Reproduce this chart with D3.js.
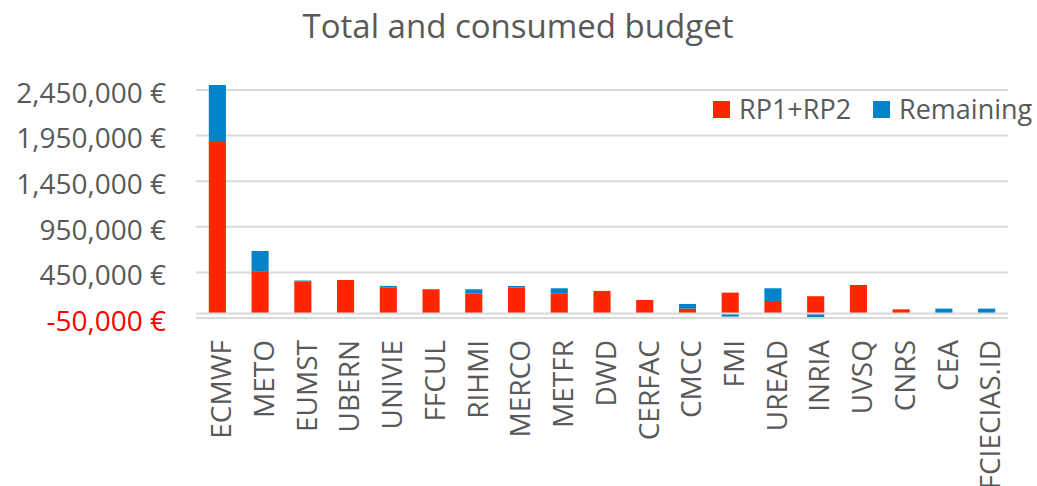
<!DOCTYPE html>
<html>
<head>
<meta charset="utf-8">
<script src="https://cdn.jsdelivr.net/npm/d3@7"></script>
<style>
  body { margin: 0; background: #fff; }
  svg { font-family: 'Open Sans', sans-serif; }
</style>
</head>
<body>
<svg width="1037" height="486"></svg>
<script>
const partners = ['ECMWF', 'METO', 'EUMST', 'UBERN', 'UNIVIE', 'FFCUL', 'RIHMI', 'MERCO', 'METFR', 'DWD',
  'CERFAC', 'CMCC', 'FMI', 'UREAD', 'INRIA', 'UVSQ', 'CNRS', 'CEA', 'FCIECIAS.ID']
const consumed = [1880000, 463000, 353000, 367000, 287000, 265000, 217000, 283000, 221000, 247000,
  148000, 53000, 228000, 137000, 189000, 312000, 45000, 0, 0]
const remaining = [625000, 222000, 8000, 0, 15000, 0, 48000, 18000, 55000, 0,
  0, 51000, -35000, 139000, -40000, 0, 0, 53000, 53000]
const yTicks = [-50000, 450000, 950000, 1450000, 1950000, 2450000]
const seriesNames = ['RP1+RP2', 'Remaining']
const colors = ['#ff2600', '#0083c9']

const svg = d3.select('svg')
const plot = { left: 196, right: 1008, top: 90, bottom: 318 }

const rows = partners.map((p, i) => ({ name: p, 'RP1+RP2': consumed[i], 'Remaining': remaining[i] }))

const x = d3.scaleBand()
  .domain(partners)
  .range([plot.left, plot.right])
  .paddingInner(0.6)
  .paddingOuter(0.3)

const y = d3.scaleLinear()
  .domain([yTicks[0], yTicks[yTicks.length - 1]])
  .range([plot.bottom, plot.top])

// euro labels, plain hyphen for negatives like Excel
const fmt = d => d3.format(',')(d).replace('\u2212', '-') + ' €'

// gridlines
svg.append('g')
  .selectAll('line')
  .data(yTicks)
  .enter()
  .append('line')
  .attr('x1', plot.left)
  .attr('x2', plot.right)
  .attr('y1', d => y(d))
  .attr('y2', d => y(d))
  .attr('stroke', '#d9d9d9')
  .attr('stroke-width', 2)

// y labels
svg.append('g')
  .selectAll('text')
  .data(yTicks)
  .enter()
  .append('text')
  .attr('x', 166)
  .attr('y', d => y(d) + 3)
  .attr('dy', '0.35em')
  .attr('text-anchor', 'end')
  .attr('fill', d => d < 0 ? '#ff0000' : '#595959')
  .style('font-size', '28px')
  .text(fmt)

const stack = d3.stack()
  .keys(seriesNames)
  .offset(d3.stackOffsetDiverging)

const layers = stack(rows)

svg.append('g')
  .selectAll('g')
  .data(layers)
  .enter()
  .append('g')
  .attr('fill', (d, i) => colors[i])
  .selectAll('rect')
  .data(d => d)
  .enter()
  .append('rect')
  .attr('x', d => x(d.data.name))
  .attr('width', x.bandwidth())
  .attr('y', d => y(Math.max(d[0], d[1])))
  .attr('height', d => Math.abs(y(d[0]) - y(d[1])))

// zero line (category axis)
svg.append('line')
  .attr('x1', plot.left)
  .attr('x2', plot.right)
  .attr('y1', y(0))
  .attr('y2', y(0))
  .attr('stroke', '#d9d9d9')
  .attr('stroke-width', 2)

// category labels
svg.append('g')
  .selectAll('text')
  .data(partners)
  .enter()
  .append('text')
  .attr('transform', d => `translate(${x(d) + x.bandwidth() / 2 + 4}, 340) rotate(-90)`)
  .attr('dy', '0.35em')
  .attr('text-anchor', 'end')
  .attr('fill', '#595959')
  .style('font-size', '28px')
  .text(d => d)

// title
svg.append('text')
  .attr('x', 518)
  .attr('y', 38)
  .attr('text-anchor', 'middle')
  .attr('fill', '#595959')
  .style('font-size', '33px')
  .text('Total and consumed budget')

// legend
const legend = svg.append('g')
const legendX = [713, 873]
seriesNames.forEach((s, i) => {
  legend.append('rect')
    .attr('x', legendX[i])
    .attr('y', 101)
    .attr('width', 17)
    .attr('height', 17)
    .attr('fill', colors[i])
  legend.append('text')
    .attr('x', legendX[i] + 26)
    .attr('y', 110)
    .attr('dy', '0.35em')
    .attr('fill', '#595959')
    .style('font-size', '27px')
    .text(s)
})
</script>
</body>
</html>
